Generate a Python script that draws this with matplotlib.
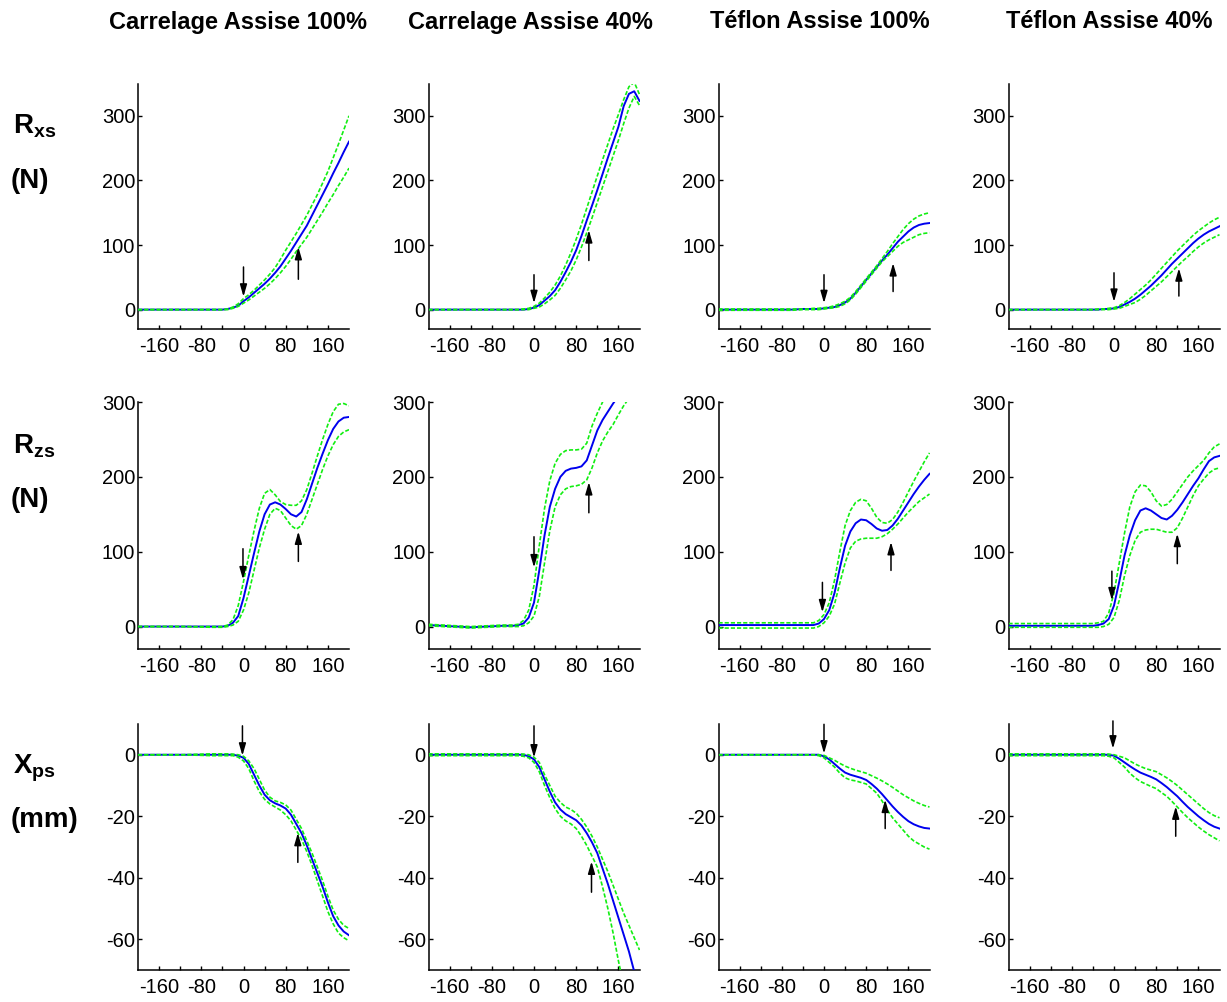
import matplotlib
matplotlib.use("Agg")
import matplotlib.pyplot as plt
from matplotlib.ticker import FixedLocator, FuncFormatter

plt.rcParams['mathtext.fontset'] = 'custom'
plt.rcParams['mathtext.rm'] = 'Liberation Sans:bold'
plt.rcParams['mathtext.bf'] = 'Liberation Sans:bold'
plt.rcParams['mathtext.it'] = 'Liberation Sans:bold'

# ---- data -------------------------------------------------------------
titles = ["Carrelage Assise 100%", "Carrelage Assise 40%",
          "Téflon Assise 100%", "Téflon Assise 40%"]
row_symbols = [r"$\mathbf{R_{xs}}$", r"$\mathbf{R_{zs}}$", r"$\mathbf{X_{ps}}$"]
row_units = ["(N)", "(N)", "(mm)"]

x = [-200, -120, -60, -40, -30, -20, -10, 0, 10, 20, 30, 40, 50, 60, 70,
     80, 90, 100, 110, 120, 130, 140, 150, 160, 170, 180, 190, 200]

# Rxs (N)
rxs_c100_mean = [0, 0, 0, 0, 1, 3, 6, 13, 19, 26, 33, 40, 48, 57, 67, 79, 91, 104, 117, 130, 146, 162, 178, 194, 211, 227, 244, 260]
rxs_c100_hi = [0, 0, 0, 0, 1, 4, 9, 17, 23, 30, 38, 46, 55, 65, 78, 92, 105, 118, 132, 146, 162, 178, 196, 214, 235, 256, 278, 300]
rxs_c100_lo = [0, 0, 0, 0, 0, 2, 5, 10, 15, 21, 27, 33, 40, 48, 57, 67, 78, 90, 101, 112, 125, 138, 151, 165, 178, 192, 205, 219]

rxs_c40_mean = [0, 0, 0, 0, 0, 0, 1, 3, 7, 14, 21, 30, 43, 58, 74, 92, 114, 138, 161, 185, 210, 235, 259, 283, 315, 334, 338, 323]
rxs_c40_hi = [0, 0, 0, 0, 0, 1, 2, 5, 10, 18, 27, 38, 52, 69, 88, 109, 132, 157, 182, 207, 232, 256, 280, 302, 325, 345, 352, 333]
rxs_c40_lo = [0, 0, 0, 0, 0, 0, 0, 2, 4, 9, 15, 22, 33, 46, 60, 77, 97, 119, 142, 166, 190, 214, 238, 262, 288, 312, 330, 316]

rxs_t100_mean = [0, 0, 0, 1, 1, 1, 1, 2, 3, 4, 7, 11, 17, 26, 36, 46, 56, 66, 76, 85, 95, 105, 113, 121, 127, 131, 133, 134]
rxs_t100_hi = [1, 1, 1, 1, 1, 2, 2, 3, 4, 6, 9, 13, 19, 28, 38, 48, 58, 68, 79, 90, 102, 113, 124, 133, 140, 145, 148, 150]
rxs_t100_lo = [-1, -1, -1, 0, 0, 0, 0, 1, 2, 3, 5, 9, 15, 24, 34, 44, 54, 64, 74, 82, 90, 98, 104, 108, 112, 116, 118, 119]

rxs_t40_mean = [0, 0, 0, 0, 0, 1, 1, 2, 4, 8, 12, 17, 23, 30, 37, 45, 53, 62, 71, 79, 87, 95, 103, 110, 116, 121, 125, 129]
rxs_t40_hi = [0, 0, 0, 0, 1, 1, 2, 3, 6, 11, 17, 24, 31, 38, 46, 55, 64, 73, 82, 91, 99, 107, 115, 122, 128, 134, 139, 143]
rxs_t40_lo = [0, 0, 0, 0, 0, 0, 0, 1, 2, 5, 8, 11, 16, 22, 29, 36, 43, 51, 59, 67, 75, 82, 90, 97, 103, 108, 112, 116]

# Rzs (N)
rzs_c100_mean = [0, 0, 0, 0, 1, 5, 14, 38, 68, 98, 127, 150, 163, 166, 163, 157, 150, 147, 153, 170, 191, 212, 231, 249, 264, 274, 279, 280]
rzs_c100_hi = [0, 0, 0, 0, 2, 9, 28, 60, 95, 128, 158, 178, 183, 176, 167, 163, 162, 162, 168, 183, 205, 228, 250, 270, 287, 297, 298, 295]
rzs_c100_lo = [0, 0, -1, -1, 0, 2, 7, 22, 45, 75, 105, 130, 150, 158, 155, 145, 135, 130, 135, 150, 170, 190, 210, 228, 243, 254, 260, 263]

rzs_c40_mean = [2, -1, 1, 1, 2, 4, 12, 32, 75, 122, 160, 184, 200, 208, 211, 212, 214, 222, 242, 262, 276, 287, 298, 308, 318, 328, 336, 343]
rzs_c40_hi = [3, 0, 2, 2, 3, 8, 22, 55, 108, 158, 195, 218, 230, 235, 236, 236, 237, 245, 268, 285, 300, 312, 322, 332, 340, 348, 355, 360]
rzs_c40_lo = [1, -2, 0, 0, 0, 1, 5, 14, 40, 85, 128, 160, 176, 184, 187, 188, 190, 196, 212, 232, 248, 260, 270, 283, 295, 305, 315, 325]

rzs_t100_mean = [2, 2, 2, 2, 2, 2, 4, 10, 22, 45, 78, 108, 127, 138, 143, 142, 137, 131, 128, 129, 135, 144, 155, 166, 177, 187, 196, 204]
rzs_t100_hi = [5, 5, 5, 5, 5, 5, 8, 16, 32, 62, 100, 135, 155, 166, 170, 168, 158, 146, 139, 138, 143, 153, 166, 180, 194, 207, 220, 232]
rzs_t100_lo = [-2, -2, -2, -2, -2, -2, 0, 5, 14, 30, 58, 85, 105, 114, 117, 118, 118, 118, 120, 124, 130, 137, 145, 153, 160, 167, 172, 177]

rzs_t40_mean = [1, 1, 1, 1, 2, 4, 10, 28, 60, 95, 122, 142, 155, 158, 155, 150, 145, 143, 148, 156, 166, 177, 188, 198, 210, 221, 226, 228]
rzs_t40_hi = [4, 4, 4, 4, 5, 7, 18, 45, 85, 125, 160, 180, 189, 188, 180, 168, 161, 163, 170, 180, 190, 200, 208, 215, 222, 232, 240, 244]
rzs_t40_lo = [-1, -1, -1, -1, -1, 0, 3, 12, 35, 68, 95, 115, 126, 129, 130, 130, 128, 126, 126, 132, 145, 160, 175, 188, 197, 205, 210, 212]

# Xps (mm)
xps_c100_mean = [0, 0, 0, 0, 0, 0, -0.3, -1, -3, -6.5, -10, -13, -14.8, -15.8, -16.5, -17.5, -19.5, -22.5, -25.5, -29.5, -34, -38.5, -43, -48, -52.5, -55.5, -57.5, -58.7]
xps_c100_hi = [0, 0, 0.3, 0.3, 0.3, 0.2, 0, -0.5, -2, -4.5, -8, -11.5, -13.8, -15, -15.5, -16.3, -18, -21, -24, -28, -32, -36.5, -41, -46, -50.5, -53.5, -55.5, -56.5]
xps_c100_lo = [0, 0, -0.3, -0.3, -0.3, -0.3, -0.8, -2, -4.5, -8.5, -12, -14.5, -16, -17, -18, -19.5, -21.5, -24.5, -27.5, -31.5, -36, -41, -46, -51, -55, -58, -59.5, -60.5]

xps_c40_mean = [0, 0, 0, 0, 0, 0, -0.5, -1.5, -4, -8, -12, -15.5, -17.8, -19.3, -20.3, -21.3, -23, -25.5, -28.5, -32, -37, -42, -47.5, -53, -58.5, -64, -70.5, -76]
xps_c40_hi = [0.3, 0.3, 0.3, 0.3, 0.3, 0.2, 0, -0.8, -2.5, -6.5, -10, -13.5, -15.5, -17, -17.8, -19, -21, -23.5, -26.5, -30, -34, -38, -42.5, -47, -51.5, -55.5, -59.5, -63.5]
xps_c40_lo = [-0.3, -0.3, -0.3, -0.3, -0.3, -0.5, -1, -2.5, -5.5, -10, -14, -17.5, -20, -21.5, -22.5, -24, -26.5, -29.5, -33, -36.5, -43, -50, -58, -67, -75, -83, -90, -97]

xps_t100_mean = [0, 0, 0, 0, 0, 0, 0, -0.5, -1.5, -3, -4.5, -5.8, -6.5, -7, -7.5, -8.2, -9.5, -11, -12.8, -14.8, -16.8, -18.6, -20.2, -21.6, -22.6, -23.3, -23.8, -24]
xps_t100_hi = [0, 0, 0, 0, 0, 0, 0, -0.2, -1, -1.8, -2.8, -3.7, -4.4, -5, -5.5, -6, -6.8, -7.6, -8.5, -9.5, -10.6, -11.8, -13, -14, -15, -15.8, -16.5, -17]
xps_t100_lo = [0, 0, 0, 0, 0, 0, -0.3, -1, -2.5, -4, -6, -7.5, -8.2, -8.5, -9, -9.5, -11, -12.5, -15, -18, -20.5, -22.5, -24.5, -26.5, -28, -29, -30, -30.7]

xps_t40_mean = [0, 0, 0, 0, 0, 0, 0, -0.3, -1.3, -2.5, -3.7, -4.8, -5.8, -6.5, -7.2, -8, -9.2, -10.5, -12, -13.5, -15.3, -17, -18.5, -20, -21.3, -22.5, -23.4, -24]
xps_t40_hi = [0.3, 0.3, 0.3, 0.3, 0.3, 0.3, 0.2, 0, -0.5, -1, -2, -3, -3.8, -4.5, -5, -5.5, -6.5, -7.5, -8.7, -10, -11.5, -13, -14.5, -16, -17.5, -18.8, -19.8, -20.5]
xps_t40_lo = [-0.3, -0.3, -0.3, -0.3, -0.3, -0.3, -0.5, -1, -2.5, -4, -6, -7.5, -8.7, -9.5, -10.3, -11, -12.3, -13.5, -15.2, -17, -18.8, -20.5, -22, -23.5, -24.8, -26, -27, -28]

# event markers: (x, tail, tip) for the onset (down) and end (up) arrows
rxs_arrows = [[(0, 66, 20), (104, 47, 97)],
              [(0, 54, 10), (104, 76, 123)],
              [(0, 54, 10), (131, 28, 72)],
              [(0, 57, 12), (123, 21, 64)]]
rzs_arrows = [[(-1, 104, 63), (104, 87, 127)],
              [(0, 120, 79), (104, 152, 193)],
              [(-3, 59, 19), (127, 75, 113)],
              [(-4, 74, 35), (120, 84, 124)]]
xps_arrows = [[(-2, 9.4, -0.3), (103, -35, -25.4)],
              [(0, 9.4, -0.9), (109, -44.7, -34.7)],
              [(0, 9.9, 0.4), (116, -24, -14.6)],
              [(-2, 11, 2), (117, -26.5, -16.8)]]

x_ticks = [-160, -120, -80, -40, 0, 40, 80, 120, 160]
x_labelled = [-160, -80, 0, 80, 160]
y_limits = [(-30, 350), (-30, 300), (-70, 10)]
y_ticks = [[0, 100, 200, 300], [0, 100, 200, 300], [-60, -40, -20, 0]]

series = [
    [(rxs_c100_mean, rxs_c100_hi, rxs_c100_lo), (rxs_c40_mean, rxs_c40_hi, rxs_c40_lo),
     (rxs_t100_mean, rxs_t100_hi, rxs_t100_lo), (rxs_t40_mean, rxs_t40_hi, rxs_t40_lo)],
    [(rzs_c100_mean, rzs_c100_hi, rzs_c100_lo), (rzs_c40_mean, rzs_c40_hi, rzs_c40_lo),
     (rzs_t100_mean, rzs_t100_hi, rzs_t100_lo), (rzs_t40_mean, rzs_t40_hi, rzs_t40_lo)],
    [(xps_c100_mean, xps_c100_hi, xps_c100_lo), (xps_c40_mean, xps_c40_hi, xps_c40_lo),
     (xps_t100_mean, xps_t100_hi, xps_t100_lo), (xps_t40_mean, xps_t40_hi, xps_t40_lo)],
]
arrows = [rxs_arrows, rzs_arrows, xps_arrows]

# ---- layout -----------------------------------------------------------
W, H = 1227, 1002
fig = plt.figure(figsize=(W / 100, H / 100), dpi=100)

col_left = [138, 428.5, 718.5, 1008.5]
ax_w = 211
row_top = [83.5, 402, 724]
row_bot = [329, 649, 970]

tick_family = ['Liberation Sans Narrow', 'Liberation Sans']
tick_size = 14.5
blue = '#0000ee'
green = '#11ee11'

for r in range(3):
    for c in range(4):
        left = col_left[c] / W
        bottom = 1 - row_bot[r] / H
        height = (row_bot[r] - row_top[r]) / H
        ax = fig.add_axes([left, bottom, ax_w / W, height])
        mean, hi, lo = series[r][c]
        ax.plot(x, mean, color=blue, lw=1.4, zorder=3)
        ax.plot(x, hi, color=green, lw=1.2, dashes=(2.5, 1.2), zorder=4)
        ax.plot(x, lo, color=green, lw=1.2, dashes=(2.5, 1.2), zorder=4)
        for (ax_x, tail, tip) in arrows[r][c]:
            ax.annotate('', xy=(ax_x, tip), xytext=(ax_x, tail),
                        arrowprops=dict(arrowstyle='-|>,head_length=0.9,head_width=0.26',
                                        mutation_scale=8, color='k', lw=1.1,
                                        shrinkA=0, shrinkB=0), zorder=5)
        ax.set_xlim(-200, 200)
        ax.set_ylim(*y_limits[r])
        for side in ('top', 'right'):
            ax.spines[side].set_visible(False)
        for side in ('left', 'bottom'):
            ax.spines[side].set_linewidth(1.1)
        ax.xaxis.set_major_locator(FixedLocator(x_ticks))
        ax.xaxis.set_major_formatter(FuncFormatter(
            lambda v, p: f"{int(v)}" if int(v) in x_labelled else ""))
        ax.yaxis.set_major_locator(FixedLocator(y_ticks[r]))
        ax.yaxis.set_major_formatter(FuncFormatter(lambda v, p: f"{int(v)}"))
        ax.tick_params(axis='x', direction='in', length=3, width=1, pad=6)
        ax.tick_params(axis='y', direction='in', length=3, width=1, pad=2)
        for lab in ax.get_xticklabels() + ax.get_yticklabels():
            lab.set_fontfamily(tick_family)
            lab.set_fontsize(tick_size)
        ax.patch.set_alpha(0)

# column titles
title_x = [238, 530, 820, 1109]
for c, t in enumerate(titles):
    fig.text(title_x[c] / W, 1 - 22 / H, t, ha='center', va='center',
             fontsize=17, fontweight='bold', family='Liberation Sans')

# row labels
sym_y = [134, 454, 774]
unit_y = [181, 500, 820]
for r in range(3):
    fig.text(13 / W, 1 - sym_y[r] / H, row_symbols[r], ha='left', va='baseline',
             fontsize=20)
    fig.text(11 / W, 1 - unit_y[r] / H, row_units[r], ha='left', va='center',
             fontsize=20, fontweight='bold', family='Liberation Sans')

fig.savefig('out.png', dpi=100)
